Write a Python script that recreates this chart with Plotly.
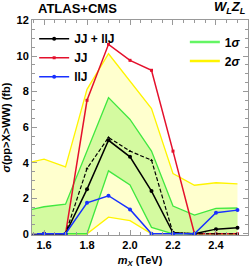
import plotly.graph_objects as go

# ---- data ----
mx = [1.5, 1.6, 1.7, 1.8, 1.9, 2.0, 2.1, 2.2, 2.3, 2.4, 2.5]
jj_llj = [0, 0, 0, 2.51, 5.26, 4.33, 2.40, 0.05, 0.0, 0.26, 0.34]
jj = [0, 0, 0, 7.51, 10.66, 9.76, 9.20, 4.65, 0.0, 0.0, 0.0]
llj = [0, 0, 0, 1.74, 2.14, 1.37, 0.0, 0.0, 0.0, 1.18, 1.33]
expected = [0, 0, 0, 3.67, 5.42, 4.65, 4.14, 0.05, 0.0, 0.0, 0.0]
s1_lo = [0, 0, 0, 0, 3.54, 2.74, 0.36, 0.0, 0.0, 0.0, 0.0]
s1_hi = [1.25, 1.52, 1.66, 4.65, 7.66, 6.43, 4.65, 1.56, 1.05, 1.43, 1.45]
s2_lo = [0, 0, 0, 0, 0.93, 0.74, 0.0, 0.0, 0.0, 0.0, 0.0]
s2_hi = [3.92, 4.20, 3.76, 8.13, 10.13, 8.60, 7.04, 3.39, 2.73, 2.87, 2.81]

RED = "rgb(228,16,44)"
BLUE = "rgb(24,48,255)"
BLACK = "black"
GREEN = "rgb(64,232,64)"
YELLOW = "rgb(255,244,0)"
YFILL = "rgb(255,255,206)"
GFILL = "rgb(212,250,160)"
FONT = "Liberation Sans"

fig = go.Figure()
fig.add_trace(go.Scatter(x=mx, y=s2_lo, mode="lines", line=dict(color=YELLOW, width=1.3), showlegend=False))
fig.add_trace(go.Scatter(x=mx, y=s2_hi, mode="lines", fill="tonexty", fillcolor=YFILL,
                         line=dict(color=YELLOW, width=1.3), showlegend=False))
fig.add_trace(go.Scatter(x=mx, y=s1_lo, mode="lines", line=dict(color=GREEN, width=1.3), showlegend=False))
fig.add_trace(go.Scatter(x=mx, y=s1_hi, mode="lines", fill="tonexty", fillcolor=GFILL,
                         line=dict(color=GREEN, width=1.3), showlegend=False))
fig.add_trace(go.Scatter(x=mx, y=jj, mode="lines+markers", name="JJ", legend="legend", legendrank=2,
                         line=dict(color=RED, width=1.5), marker=dict(symbol="square", size=3, color=RED)))
fig.add_trace(go.Scatter(x=mx, y=expected, mode="lines+markers", showlegend=False,
                         line=dict(color=BLACK, width=1.2, dash="4px,2px"),
                         marker=dict(symbol="triangle-up", size=3, color=BLACK)))
fig.add_trace(go.Scatter(x=mx, y=jj_llj, mode="lines+markers", name="JJ + llJ", legend="legend", legendrank=1,
                         line=dict(color=BLACK, width=1.5), marker=dict(symbol="circle", size=4, color=BLACK)))
fig.add_trace(go.Scatter(x=mx, y=llj, mode="lines+markers", name="llJ", legend="legend", legendrank=3,
                         line=dict(color=BLUE, width=1.5), marker=dict(symbol="circle", size=4, color=BLUE)))
fig.add_trace(go.Scatter(x=[None], y=[None], mode="lines", name="1<i>σ</i>", legend="legend2", legendrank=1,
                         line=dict(color="rgb(100,245,100)", width=2.5)))
fig.add_trace(go.Scatter(x=[None], y=[None], mode="lines", name="2<i>σ</i>", legend="legend2", legendrank=2,
                         line=dict(color=YELLOW, width=2.5)))

legfont = dict(family=FONT, size=12, color="black", weight="bold")
fig.update_layout(
    width=249, height=268,
    margin=dict(l=32, r=1, t=20, b=33, autoexpand=False),
    paper_bgcolor="white", plot_bgcolor="white",
    showlegend=True,
    legend=dict(x=0.01, y=0.98, xanchor="left", yanchor="top", bgcolor="rgba(0,0,0,0)",
                font=legfont, itemwidth=30, tracegroupgap=0, traceorder="normal"),
    legend2=dict(x=0.99, y=0.965, xanchor="right", yanchor="top", bgcolor="rgba(0,0,0,0)",
                 font=legfont, itemwidth=30, tracegroupgap=0, traceorder="normal"),
    xaxis=dict(range=[1.544, 2.549], tickvals=[1.6, 1.8, 2.0, 2.2, 2.4],
               ticktext=["1.6", "1.8", "2.0", "2.2", "2.4"], automargin=False,
               ticks="inside", ticklen=5, tickcolor="#999", showline=True, linecolor="#999",
               mirror="allticks", showgrid=False, zeroline=False,
               minor=dict(dtick=0.05, ticklen=3, tickcolor="#999", ticks="inside", showgrid=False),
               tickfont=dict(family=FONT, size=11, color="black", weight="bold"),
               title=dict(text="<i>m</i><sub><i>X</i></sub> (TeV)",
                          font=dict(family=FONT, size=11, color="black", weight="bold"))),
    yaxis=dict(range=[-0.07, 12.03], tickvals=[0, 2, 4, 6, 8, 10, 12], automargin=False,
               ticks="inside", ticklen=5, tickcolor="#999", showline=True, linecolor="#999",
               mirror="allticks", showgrid=False, zeroline=False,
               minor=dict(dtick=0.5, ticklen=3, tickcolor="#999", ticks="inside", showgrid=False),
               tickfont=dict(family=FONT, size=11, color="black", weight="bold"),
               title=dict(text="<i>σ</i>(pp>X>WW) (fb)",
                          font=dict(family=FONT, size=11, color="black", weight="bold"))),
    annotations=[
        dict(text="ATLAS+CMS", xref="paper", yref="paper", x=0.02, y=1.0, xanchor="left", yanchor="bottom",
             yshift=2, showarrow=False, font=dict(family=FONT, size=13, color="black", weight="bold")),
        dict(text="<i>W</i><sub><i>L</i></sub><i>Z</i><sub><i>L</i></sub>", xref="paper", yref="paper",
             x=1.0, y=1.0, xanchor="right", yanchor="bottom", yshift=2,
             showarrow=False, font=dict(family=FONT, size=13, color="black", weight="bold")),
    ],
)
fig.write_html("out.html", config={"displayModeBar": False},
               post_script="document.body.style.margin='0px';")
